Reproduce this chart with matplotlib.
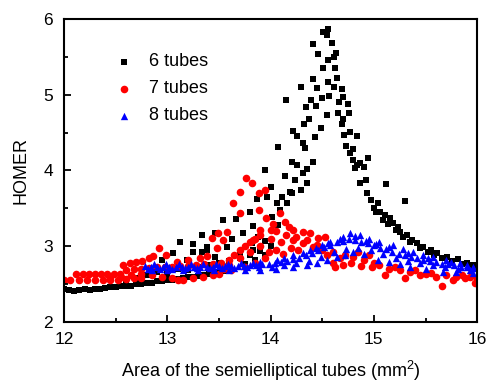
import matplotlib
matplotlib.use('Agg')
import matplotlib.pyplot as plt
from matplotlib.ticker import MultipleLocator

plt.rcParams['font.family'] = ['Liberation Sans', 'DejaVu Sans']
plt.rcParams['mathtext.default'] = 'regular'

# 6 tubes
x6 = [12.0, 12.05, 12.1, 12.15, 12.2, 12.25, 12.3, 12.35, 12.4, 12.45, 12.5, 12.55, 12.6, 12.65, 12.7,
      12.75, 12.8, 12.85, 12.9, 12.95, 13.0, 13.05, 13.1, 13.15, 13.2, 13.25, 13.3, 13.35, 13.4, 13.45,
      13.5, 13.55, 13.6,
      12.6, 12.7, 12.8, 12.9, 13.0, 13.1, 13.2, 13.3, 13.4, 13.5, 13.6, 13.7, 13.75, 13.8, 13.85, 13.9,
      13.95, 14.0,
      13.12, 13.06, 12.95, 13.19, 13.25, 13.38, 13.25, 13.34, 13.46, 13.63, 13.73, 13.88, 13.38, 13.58,
      13.82, 13.95, 13.34, 13.46, 13.70, 13.83, 13.54, 13.67, 13.83, 14.07, 13.80, 14.01, 13.87, 14.06,
      14.11, 14.19, 14.24, 14.14, 13.95, 14.0, 13.97, 14.09, 14.16, 14.21, 14.29, 14.35,
      14.21, 14.26, 14.41, 14.31, 14.35, 14.07, 14.31, 14.33, 14.43, 14.22, 14.26, 14.49, 14.32, 14.37,
      14.55, 14.34, 14.44, 14.15, 14.39, 14.50, 14.57, 14.29, 14.45, 14.41, 14.56, 14.51, 14.56, 14.46,
      14.41, 14.51, 14.55, 14.56,
      14.59, 14.63, 14.61, 14.62, 14.64, 14.61, 14.69, 14.70, 14.66, 14.75, 14.65, 14.76, 14.70, 14.69,
      14.71, 14.77, 14.84, 14.73, 14.80, 14.77, 14.80, 14.87, 14.94, 14.82, 14.90, 14.84, 14.87, 14.92,
      15.12, 14.93, 14.97, 15.00, 15.04, 15.30, 15.06, 15.11, 15.16, 15.19, 15.23, 15.25, 15.32, 15.37,
      15.42, 15.48, 15.55, 15.61, 15.71, 15.81, 15.90, 15.96,
      15.02, 15.09, 15.14, 15.21, 15.28, 15.35, 15.45, 15.52, 15.58, 15.66, 15.76, 15.85, 15.93, 16.0]
y6 = [2.44, 2.42, 2.41, 2.42, 2.43, 2.42, 2.44, 2.44, 2.45, 2.46, 2.46, 2.47, 2.48, 2.48, 2.50,
      2.50, 2.52, 2.52, 2.54, 2.54, 2.55, 2.56, 2.57, 2.58, 2.59, 2.60, 2.61, 2.62, 2.63, 2.64,
      2.66, 2.67, 2.69,
      2.55, 2.58, 2.62, 2.66, 2.64, 2.70, 2.68, 2.72, 2.75, 2.78, 2.80, 2.84, 2.76, 2.88, 2.82, 2.94,
      2.88, 3.00,
      3.06, 2.91, 2.82, 2.82, 2.92, 2.95, 3.03, 3.15, 3.17, 3.10, 3.17, 3.12, 2.99, 2.99,
      3.04, 3.07, 2.92, 2.86, 2.92, 2.95, 3.35, 3.36, 3.27, 3.28, 3.45, 3.39, 3.62, 3.57,
      3.65, 3.72, 3.87, 3.93, 4.00, 3.78, 3.65, 3.48, 3.57, 3.70, 3.74, 3.83,
      4.11, 4.07, 4.11, 3.97, 4.02, 4.31, 4.36, 4.30, 4.44, 4.52, 4.46, 4.56, 4.61, 4.68,
      4.73, 4.84, 4.85, 4.93, 4.93, 4.96, 4.98, 5.10, 5.09, 5.21, 5.17, 5.35, 5.46, 5.54,
      5.67, 5.83, 5.79, 5.87,
      5.68, 5.55, 5.50, 5.35, 5.22, 5.10, 5.08, 4.97, 4.90, 4.88, 4.76, 4.76, 4.68, 4.61,
      4.47, 4.51, 4.46, 4.32, 4.28, 4.23, 4.14, 4.10, 4.16, 4.03, 4.05, 4.07, 3.83, 3.87,
      3.82, 3.70, 3.61, 3.50, 3.57, 3.60, 3.45, 3.41, 3.37, 3.31, 3.25, 3.19, 3.15, 3.08,
      3.04, 2.99, 2.95, 2.91, 2.86, 2.83, 2.78, 2.75,
      3.45, 3.35, 3.30, 3.22, 3.12, 3.05, 2.98, 2.92, 2.88, 2.85, 2.80, 2.77, 2.72, 2.70]

# 7 tubes
x7 = [12.0, 12.06, 12.12, 12.18, 12.24, 12.30, 12.36, 12.42, 12.48, 12.54,
      12.15, 12.22, 12.30, 12.38, 12.45, 12.52, 12.60, 12.68, 12.75,
      12.45, 12.55, 12.65, 12.75, 12.85, 12.95, 13.05,
      12.57, 12.64, 12.70, 12.76, 12.82, 12.86, 12.92, 12.99, 13.09, 13.20, 13.32, 13.38, 13.43, 13.49,
      13.58, 13.54, 13.48,
      12.60, 12.68, 12.75, 12.82, 12.90, 12.98, 13.05, 13.12, 13.20, 13.28, 13.36, 13.44, 13.52,
      13.10, 13.15, 13.25, 13.35, 13.44, 13.50,
      13.55, 13.60, 13.65, 13.70, 13.75, 13.80, 13.85, 13.90, 13.60, 13.70, 13.80, 13.90, 14.00,
      13.62, 13.75, 13.85, 13.95,
      13.64, 13.70, 13.76, 13.82, 13.70, 13.89, 13.95, 13.89, 13.96, 13.90, 13.83, 14.09, 14.14, 14.02,
      14.05, 14.00,
      14.22, 14.31, 14.38, 14.46, 14.53, 14.22, 14.31, 14.41, 14.27, 14.10, 14.15, 14.18, 14.25, 14.35,
      14.45, 14.50, 14.12, 14.20, 14.05, 13.98,
      14.60, 14.67, 14.72, 14.80, 14.85, 14.90, 14.95, 15.00, 14.62, 14.70, 14.78, 14.88, 14.98, 15.05,
      15.11, 15.15, 15.20, 15.25, 15.30, 15.35, 15.40, 15.45, 15.50, 15.55, 15.60, 15.66, 15.70, 15.77,
      15.80, 15.85, 15.88, 15.93, 15.98, 16.0, 14.55, 14.60]
y7 = [2.56, 2.55, 2.64, 2.64, 2.64, 2.64, 2.64, 2.63, 2.63, 2.64,
      2.55, 2.55, 2.55, 2.55, 2.56, 2.56, 2.57, 2.58, 2.58,
      2.60, 2.60, 2.62, 2.63, 2.62, 2.60, 2.58,
      2.75, 2.78, 2.79, 2.80, 2.84, 2.87, 2.98, 2.88, 2.79, 2.82, 2.85, 2.87, 3.11, 3.17,
      3.19, 3.08, 2.98,
      2.69, 2.70, 2.70, 2.71, 2.72, 2.72, 2.73, 2.74, 2.74, 2.75, 2.76, 2.77, 2.78,
      2.55, 2.55, 2.58, 2.59, 2.62, 2.64,
      2.70, 2.82, 2.88, 2.95, 3.00, 3.05, 3.10, 3.15, 2.75, 2.85, 2.92, 3.00, 3.10,
      2.68, 2.72, 2.78, 2.85,
      3.57, 3.72, 3.90, 3.84, 3.44, 3.70, 3.74, 3.48, 3.37, 3.21, 3.08, 3.44, 3.32, 3.30,
      3.20, 3.22,
      3.21, 3.19, 3.17, 3.11, 3.12, 3.08, 3.04, 2.99, 2.95, 3.05, 3.15, 3.25, 3.12, 3.08,
      3.02, 2.95, 2.90, 2.98, 2.95, 2.92,
      2.78, 2.84, 2.88, 2.86, 2.92, 2.82, 2.88, 2.78, 2.72, 2.75, 2.78, 2.74, 2.72, 2.75,
      2.62, 2.70, 2.72, 2.68, 2.58, 2.66, 2.68, 2.62, 2.64, 2.65, 2.60, 2.48, 2.62, 2.55,
      2.60, 2.62, 2.58, 2.60, 2.52, 2.58, 2.88, 2.92]

# 8 tubes
x8 = [12.78, 12.84, 12.90, 12.96, 13.02, 13.08, 13.14, 13.20, 13.26, 13.32, 13.38, 13.44, 13.50, 13.56,
      13.62, 13.68, 13.74, 13.80, 13.86, 13.92, 13.98, 14.04, 14.10, 14.16, 14.22, 14.28, 14.34, 14.40,
      14.46, 14.52, 14.58, 14.64, 14.70, 14.76, 14.82, 14.88, 14.94, 15.00, 15.06, 15.12, 15.18, 15.24,
      15.30, 15.36, 15.42, 15.48, 15.54, 15.60, 15.66, 15.72, 15.78, 15.84, 15.90, 15.96,
      13.90, 14.06, 14.22, 14.38, 14.50, 14.58, 14.70, 14.77, 14.87, 14.95, 15.05, 15.19, 15.28, 15.38,
      15.48, 15.57, 15.70, 15.83, 15.96,
      12.85, 13.00, 13.15, 13.30, 13.45, 13.60, 13.75, 13.90, 14.05, 14.22, 14.35, 14.45, 14.55, 14.64,
      14.72, 14.80, 14.90, 15.04, 15.15, 15.25, 15.35, 15.50, 15.67, 15.80, 15.96,
      12.81, 12.93, 13.05, 13.17, 13.29, 13.41, 13.53, 13.65, 13.77, 13.89, 14.01, 14.13, 14.25, 14.37,
      14.49, 14.61, 14.73, 14.85, 14.97, 15.09, 15.21, 15.33, 15.45, 15.57, 15.69, 15.81, 15.93,
      12.87, 12.99, 13.11, 13.23, 13.35, 13.47, 13.59, 13.71, 13.83,
      14.13, 14.31, 14.44, 14.56, 14.67, 14.82, 14.92, 15.02, 15.15, 15.33, 15.52, 15.75, 15.90]
y8 = [2.74, 2.73, 2.73, 2.73, 2.73, 2.73, 2.73, 2.73, 2.73, 2.73, 2.73, 2.73, 2.74, 2.74,
      2.74, 2.74, 2.74, 2.75, 2.75, 2.76, 2.77, 2.78, 2.79, 2.81, 2.83, 2.85, 2.88, 2.91,
      2.95, 2.99, 3.02, 3.05, 3.07, 3.09, 3.08, 3.06, 3.04, 3.01, 2.98, 2.96, 2.93, 2.90,
      2.88, 2.86, 2.84, 2.82, 2.80, 2.79, 2.77, 2.76, 2.75, 2.73, 2.72, 2.71,
      2.79, 2.82, 2.88, 2.95, 3.02, 3.06, 3.12, 3.17, 3.15, 3.10, 3.06, 3.02, 2.97, 2.92,
      2.89, 2.86, 2.82, 2.78, 2.73,
      2.68, 2.68, 2.68, 2.69, 2.69, 2.69, 2.69, 2.69, 2.70, 2.73, 2.75, 2.78, 2.82, 2.86,
      2.89, 2.92, 2.90, 2.82, 2.79, 2.76, 2.73, 2.70, 2.66, 2.66, 2.65,
      2.70, 2.70, 2.70, 2.71, 2.71, 2.71, 2.71, 2.71, 2.72, 2.72, 2.73, 2.75, 2.78, 2.81,
      2.86, 2.92, 2.97, 2.98, 2.95, 2.90, 2.85, 2.81, 2.78, 2.75, 2.72, 2.70, 2.68,
      2.77, 2.77, 2.77, 2.77, 2.77, 2.77, 2.77, 2.78, 2.78,
      2.84, 2.91, 2.98, 3.04, 3.10, 3.13, 3.07, 3.03, 2.99, 2.91, 2.85, 2.79, 2.75]

plt.figure(figsize=(4.96, 3.87), dpi=100)
ax = plt.axes([0.129, 0.168, 0.833, 0.783])
plt.scatter(x6, y6, s=16, marker='s', color='black', linewidths=0, label='6 tubes')
plt.scatter(x7, y7, s=30, marker='o', color='red', linewidths=0, label='7 tubes')
plt.scatter(x8, y8, s=28, marker='^', color='blue', linewidths=0, label='8 tubes')

plt.xlim((12, 16))
plt.ylim((2, 6))
ax.xaxis.set_major_locator(MultipleLocator(1))
ax.xaxis.set_minor_locator(MultipleLocator(0.5))
ax.yaxis.set_major_locator(MultipleLocator(1))
ax.yaxis.set_minor_locator(MultipleLocator(0.5))
ax.tick_params(which='both', direction='in', width=1.3, labelsize=12.5)
ax.tick_params(which='major', length=5)
ax.tick_params(axis='x', which='major', pad=7)
ax.tick_params(axis='y', which='major', pad=8)
ax.tick_params(which='minor', length=3)
for sp in ax.spines.values():
    sp.set_linewidth(1.5)

plt.xlabel('Area of the semielliptical tubes (mm$^{2}$)', fontsize=13, labelpad=9)
plt.ylabel('HOMER', fontsize=13, labelpad=10)
plt.legend(loc='upper left', bbox_to_anchor=(0.083, 0.94), frameon=False, fontsize=13,
           handlelength=1.0, handletextpad=0.9, labelspacing=0.55, scatterpoints=1)
plt.savefig('out.png', dpi=100)
